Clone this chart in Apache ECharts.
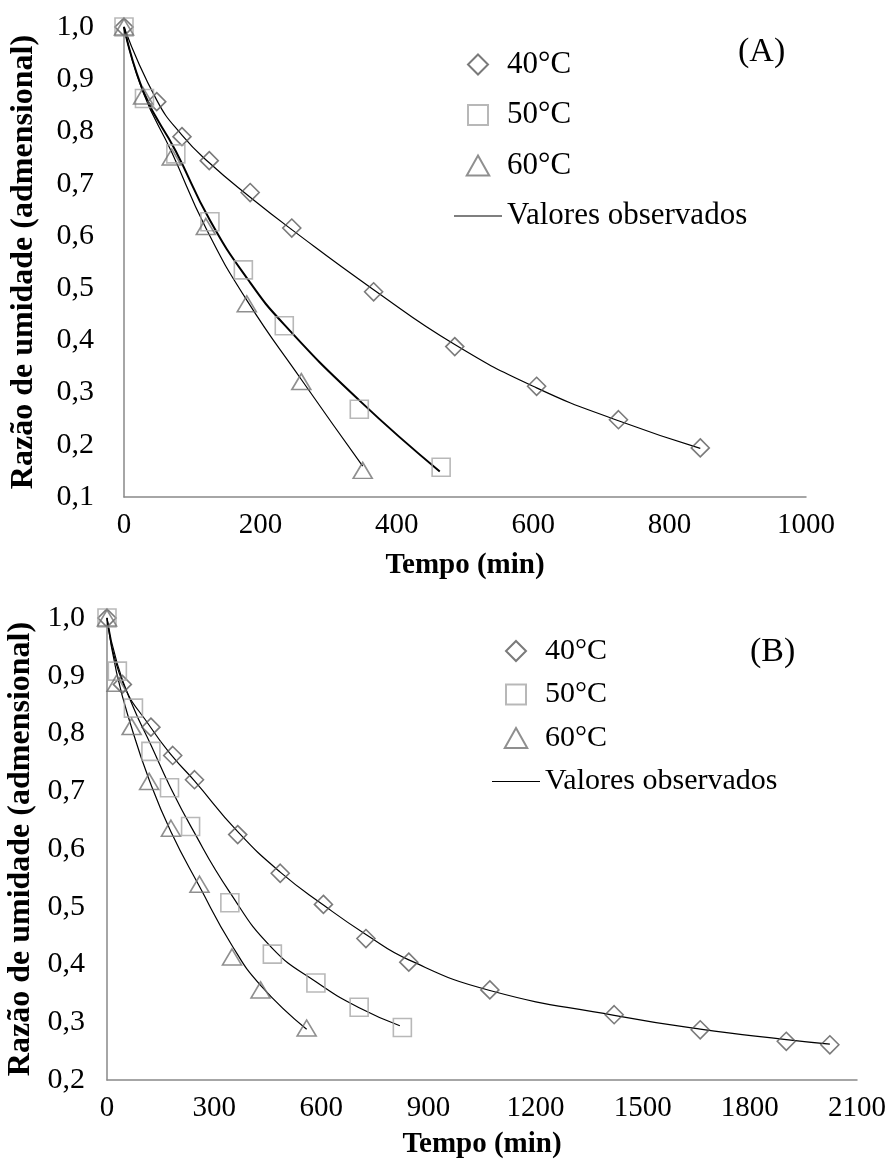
<!DOCTYPE html>
<html>
<head>
<meta charset="utf-8">
<script src="https://cdn.jsdelivr.net/npm/echarts@6/dist/echarts.min.js"></script>
<style>
  html, body { margin: 0; padding: 0; background: #fff; }
  #chart { width: 892px; height: 1161px; }
</style>
</head>
<body>
<div id="chart"></div>
<script>
// ---- painel (A) ----
const tempoA40 = [0, 48, 85, 125, 185, 246, 366, 485, 605, 725, 845];
const razaoA40 = [1.0, 0.857, 0.790, 0.744, 0.683, 0.615, 0.493, 0.388, 0.312, 0.248, 0.194];
const ajusteA40 = [1.0, 0.860, 0.793, 0.740, 0.674, 0.612, 0.497, 0.392, 0.309, 0.246, 0.193];

const tempoA50 = [0, 30, 76, 126, 175, 235, 345, 465];
const razaoA50 = [1.0, 0.863, 0.757, 0.627, 0.535, 0.428, 0.268, 0.157];
const tempoA50aj = [0, 30, 76, 126, 182, 235, 345, 463];
const ajusteA50 = [1.0, 0.872, 0.762, 0.630, 0.516, 0.430, 0.285, 0.149];

const tempoA60 = [0, 28, 70, 120, 180, 260, 350];
const razaoA60 = [1.0, 0.868, 0.751, 0.618, 0.470, 0.321, 0.151];
const ajusteA60 = [1.0, 0.875, 0.760, 0.615, 0.477, 0.325, 0.159];

// ---- painel (B) ----
const tempoB40 = [0, 43, 123, 184, 245, 366, 485, 606, 725, 845, 1072, 1420, 1661, 1902, 2024];
const razaoB40 = [1.0, 0.885, 0.811, 0.762, 0.720, 0.625, 0.558, 0.504, 0.445, 0.404, 0.356, 0.313, 0.287, 0.267, 0.261];
const ajusteB40 = [1.0, 0.890, 0.810, 0.760, 0.718, 0.630, 0.560, 0.503, 0.452, 0.408, 0.355, 0.312, 0.288, 0.270, 0.262];

const tempoB50 = [0, 29, 74, 123, 175, 234, 344, 463, 585, 706, 827];
const razaoB50 = [1.0, 0.908, 0.844, 0.769, 0.706, 0.639, 0.507, 0.418, 0.368, 0.326, 0.291];
const tempoB50aj = [0, 29, 74, 123, 175, 234, 344, 463, 585, 706, 820];
const ajusteB50 = [1.0, 0.920, 0.845, 0.780, 0.710, 0.640, 0.525, 0.428, 0.370, 0.325, 0.294];

const tempoB60 = [0, 27, 69, 118, 179, 259, 350, 430, 559];
const razaoB60 = [1.0, 0.887, 0.812, 0.717, 0.636, 0.539, 0.413, 0.356, 0.290];
const ajusteB60 = [1.0, 0.905, 0.810, 0.720, 0.630, 0.535, 0.433, 0.364, 0.288];

const fonte = 'Liberation Serif, Times New Roman, serif';

// legend icons keep their aspect when given as paths
const iconeLegenda = [
  { name: '40°C', icon: 'path://M9,0 L18,9 L9,18 L0,9 Z' },
  { name: '50°C', icon: 'path://M0,0 L18,0 L18,18 L0,18 Z' },
  { name: '60°C', icon: 'path://M9,0 L18,16 L0,16 Z' },
  { name: 'Valores observados', icon: 'path://M0,0 L48,0 L48,1.2 L0,1.2 Z', itemStyle: { color: '#000', borderWidth: 0 } }
];

function pares(x, y) {
  return x.map((t, i) => [t, y[i]]);
}

function pontos(nome, idx, x, y, simbolo, tamanho, cor) {
  return {
    name: nome,
    type: 'scatter',
    xAxisIndex: idx,
    yAxisIndex: idx,
    symbol: simbolo,
    symbolSize: tamanho,
    itemStyle: { color: 'rgba(0,0,0,0)', borderColor: cor, borderWidth: 1.6 },
    z: 3,
    data: pares(x, y)
  };
}

function curva(idx, x, y, largura) {
  return {
    name: 'Valores observados',
    type: 'line',
    xAxisIndex: idx,
    yAxisIndex: idx,
    symbol: 'none',
    smooth: 0.5,
    color: '#000',
    lineStyle: { color: '#000', width: largura },
    z: 2,
    data: pares(x, y)
  };
}

function eixoX(idx, max, intervalo, gap) {
  return {
    type: 'value',
    gridIndex: idx,
    min: 0,
    max: max,
    interval: intervalo,
    name: 'Tempo (min)',
    nameLocation: 'middle',
    nameGap: gap,
    nameTextStyle: { fontFamily: fonte, fontSize: 29, fontWeight: 'bold', color: '#000' },
    axisLine: { lineStyle: { color: '#898989', width: 1.5 } },
    axisTick: { show: false },
    splitLine: { show: false },
    axisLabel: { fontFamily: fonte, fontSize: 29, color: '#000', margin: 14, formatter: v => String(v) }
  };
}

function eixoY(idx, min, gap, margem) {
  return {
    type: 'value',
    gridIndex: idx,
    min: min,
    max: 1.0,
    interval: 0.1,
    name: 'Razão de umidade (admensional)',
    nameLocation: 'middle',
    nameRotate: 90,
    nameGap: gap,
    nameTextStyle: { fontFamily: fonte, fontSize: 32, fontWeight: 'bold', color: '#000' },
    axisLine: { show: true, lineStyle: { color: '#898989', width: 1.5 } },
    axisTick: { show: false },
    splitLine: { show: false },
    axisLabel: {
      fontFamily: fonte, fontSize: 30, color: '#000', margin: margem,
      formatter: v => v.toFixed(1).replace('.', ',')
    }
  };
}

function legenda(left, top, gap, tamanho) {
  return {
    data: iconeLegenda,
    orient: 'vertical',
    left: left,
    top: top,
    itemWidth: 48,
    itemHeight: 20,
    itemGap: gap,
    selectedMode: false,
    textStyle: { fontFamily: fonte, fontSize: tamanho, lineHeight: 30, color: '#000' }
  };
}

const chart = echarts.init(document.getElementById('chart'));
chart.setOption({
  animation: false,
  backgroundColor: '#fff',
  title: [
    { text: '(A)', left: 733, top: 30, textStyle: { fontFamily: fonte, fontSize: 34, fontWeight: 'normal', color: '#000' } },
    { text: '(B)', left: 745, top: 630, textStyle: { fontFamily: fonte, fontSize: 34, fontWeight: 'normal', color: '#000' } }
  ],
  legend: [legenda(449, 44, 19.5, 31), legenda(487, 631, 13.5, 30)],
  grid: [
    { left: 124, right: 86, top: 27, bottom: 664, containLabel: false, outerBoundsMode: 'none' },
    { left: 107, right: 35, top: 618, bottom: 81, containLabel: false, outerBoundsMode: 'none' }
  ],
  xAxis: [eixoX(0, 1000, 200, 54), eixoX(1, 2100, 300, 50)],
  yAxis: [eixoY(0, 0.1, 84, 30), eixoY(1, 0.2, 67, 22)],
  series: [
    curva(0, tempoA40, ajusteA40, 1.2),
    curva(0, tempoA50aj, ajusteA50, 2),
    curva(0, tempoA60, ajusteA60, 1.2),
    pontos('40°C', 0, tempoA40, razaoA40, 'diamond', [18, 18], '#595959'),
    pontos('50°C', 0, tempoA50, razaoA50, 'rect', [18, 18], '#a6a6a6'),
    pontos('60°C', 0, tempoA60, razaoA60, 'triangle', [19, 16], '#737373'),
    curva(1, tempoB40, ajusteB40, 1.2),
    curva(1, tempoB50aj, ajusteB50, 1.2),
    curva(1, tempoB60, ajusteB60, 1.2),
    pontos('40°C', 1, tempoB40, razaoB40, 'diamond', [18, 18], '#595959'),
    pontos('50°C', 1, tempoB50, razaoB50, 'rect', [18, 18], '#a6a6a6'),
    pontos('60°C', 1, tempoB60, razaoB60, 'triangle', [19, 16], '#737373')
  ]
});
</script>
</body>
</html>
